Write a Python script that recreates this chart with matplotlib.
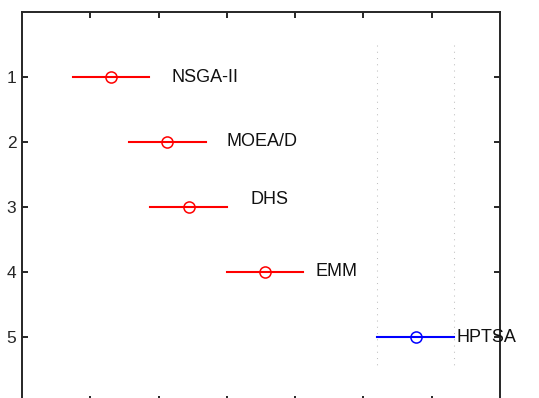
import matplotlib.pyplot as plt
import numpy as np

plt.rcParams['font.family'] = ['Liberation Sans', 'DejaVu Sans']

# group means and comparison interval half-width
names = ["NSGA-II", "MOEA/D", "DHS", "EMM", "HPTSA"]
means = [1.306, 2.127, 2.439, 3.561, 5.767]
half_width = 0.561
colors = ["red", "red", "red", "red", "blue"]
label_x = [2.195, 2.997, 3.347, 4.294, 6.364]
label_y = [1.0, 2.0, 2.88, 4.0, 5.0]

fig = plt.figure(figsize=(5.39, 3.98), dpi=100)
ax = fig.add_axes([22/539, -4/398, 478/539, 390/398])

ypos = np.arange(1, len(names) + 1)
for y, m, c in zip(ypos, means, colors):
    ax.plot([m - half_width, m + half_width], [y, y], color=c, lw=1.5)
    ax.plot(m, y, 'o', mfc='none', mec=c, ms=8, mew=1.1)

# reference lines at the ends of the best group's interval
best = means[-1]
for xv in [best - half_width, best + half_width]:
    ax.plot([xv, xv], [0.5, 5.5], color='#c0c0c0', lw=0.75, dashes=(1, 5))

for n, lx, ly in zip(names, label_x, label_y):
    ax.text(lx, ly, n, fontsize=13, va='center', ha='left', color='#111111')

ax.set_xlim(0, 7)
ax.set_ylim(6, 0)
ax.set_xticks(np.arange(1, 7))
ax.set_xticklabels([])
ax.set_yticks(ypos)
ax.set_yticklabels([str(v) for v in ypos])
ax.tick_params(direction='in', length=4, width=1.4, color='#262626',
               labelsize=12.5, labelcolor='#262626',
               top=True, bottom=True, left=True, right=True, pad=4)
for s in ax.spines.values():
    s.set_linewidth(1.4)
    s.set_color('#262626')

fig.savefig("out.png", dpi=100)
